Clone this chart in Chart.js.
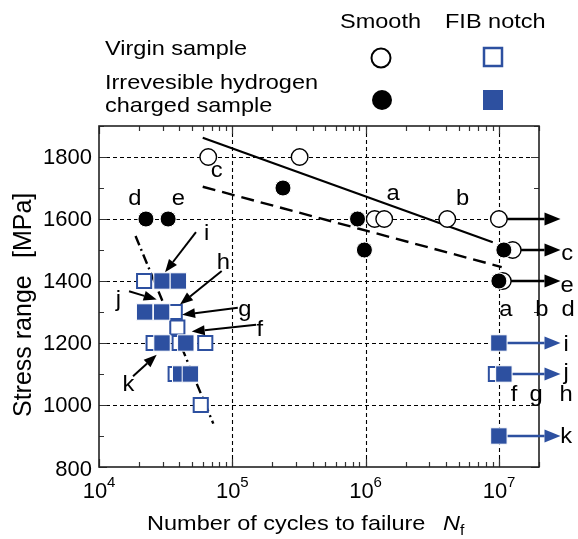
<!DOCTYPE html>
<html>
<head>
<meta charset="utf-8">
<script src="https://cdn.jsdelivr.net/npm/chart.js@4.4.1/dist/chart.umd.min.js"></script>
<style>
  html, body { margin: 0; padding: 0; background: #fff; }
  #wrap { width: 578px; height: 539px; }
</style>
</head>
<body>
<div id="wrap"><canvas id="snChart"></canvas></div>
<script>
// axis ticks
const xTicks = [1e4, 1e5, 1e6, 1e7];
const yTicks = [800, 1000, 1200, 1400, 1600, 1800];

// Smooth, virgin sample (open circles)
const smoothVirginN = [6.6e4, 3.2e5, 1.17e6, 1.38e6, 4.1e6, 1e7, 1.27e7, 1.07e7];
const smoothVirginS = [1800, 1800, 1600, 1600, 1600, 1600, 1500, 1400];
// Smooth, hydrogen charged (filled circles)
const smoothHydN = [2.25e4, 3.3e4, 2.4e5, 8.7e5, 9.8e5, 1.09e7, 1e7];
const smoothHydS = [1600, 1600, 1700, 1600, 1500, 1500, 1400];
// FIB notch, virgin sample (open squares)
const notchVirginN = [2.18e4, 3.7e4, 3.87e4, 2.57e4, 4.03e4, 6.27e4, 3.76e4, 5.8e4, 9.5e6];
const notchVirginS = [1400, 1300, 1250, 1200, 1200, 1200, 1100, 1000, 1100];
// FIB notch, hydrogen charged (filled squares)
const notchHydN = [2.97e4, 3.94e4, 2.2e4, 2.95e4, 2.97e4, 4.48e4, 4.1e4, 4.85e4, 1e7, 1.09e7, 1e7];
const notchHydS = [1400, 1400, 1300, 1300, 1200, 1200, 1100, 1100, 1200, 1100, 900];

// fitted S-N lines
const fitVirginN = [6.0e4, 9.0e6];
const fitVirginS = [1862, 1525];
const fitHydN = [6.0e4, 1.05e7];
const fitHydS = [1704, 1445];
const fitNotchN = [1.88e4, 7.2e4];
const fitNotchS = [1545, 940];

const BLUE = "#2d50a0";
const FONT = '"Liberation Sans", Arial, sans-serif';
const SX = 1.12; // original text is a bit wide

function pts(ns, ss) {
  return ns.map((n, i) => ({ x: n, y: ss[i] }));
}

function text(ctx, s, x, y, size, opt = {}) {
  ctx.save();
  ctx.font = (opt.italic ? "italic " : "") + size + "px " + FONT;
  ctx.fillStyle = opt.color || "#000";
  ctx.textAlign = opt.align || "left";
  ctx.textBaseline = opt.base || "alphabetic";
  ctx.translate(x, y);
  if (opt.rot) ctx.rotate(opt.rot);
  ctx.scale(opt.sx || 1, 1);
  ctx.fillText(s, 0, 0);
  ctx.restore();
}

function arrow(ctx, x1, y1, x2, y2, color, lw, hl, hw) {
  const ang = Math.atan2(y2 - y1, x2 - x1);
  ctx.save();
  ctx.strokeStyle = color;
  ctx.fillStyle = color;
  ctx.lineWidth = lw;
  ctx.setLineDash([]);
  ctx.beginPath();
  ctx.moveTo(x1, y1);
  ctx.lineTo(x2 - hl * Math.cos(ang), y2 - hl * Math.sin(ang));
  ctx.stroke();
  ctx.translate(x2, y2);
  ctx.rotate(ang);
  ctx.beginPath();
  ctx.moveTo(0, 0);
  ctx.lineTo(-hl, -hw);
  ctx.lineTo(-hl, hw);
  ctx.closePath();
  ctx.fill();
  ctx.restore();
}

// run-out arrows (from specimen to past the right axis)
const runoutTipN = 2.9e7;
const runoutBlack = [[1e7, 1600], [1.09e7, 1500], [1e7, 1400]];
const runoutBlue = [[1e7, 1200], [1.09e7, 1100], [1e7, 900]];

// letter labels, in data units
const plotLabels = [
  ["c", 7.64e4, 1756], ["d", 1.86e4, 1664], ["e", 3.94e4, 1664],
  ["a", 1.61e6, 1680], ["b", 5.35e6, 1664],
  ["i", 6.43e4, 1551], ["h", 8.57e4, 1459], ["g", 1.245e5, 1307],
  ["f", 1.61e5, 1243], ["j", 1.4e4, 1340], ["k", 1.66e4, 1064],
  ["c", 3.25e7, 1488], ["e", 3.25e7, 1385],
  ["a", 1.13e7, 1308], ["b", 2.1e7, 1308], ["d", 3.3e7, 1308],
  ["i", 3.2e7, 1195], ["j", 3.2e7, 1103], ["k", 3.2e7, 898],
  ["f", 1.3e7, 1032], ["g", 1.9e7, 1032], ["h", 3.2e7, 1032]
];

// pointer arrows near the notched cluster [fromN, fromS, toN, toS]
const pointerArrows = [
  [5.34e4, 1558, 3.13e4, 1428],
  [8.33e4, 1432, 4.05e4, 1324],
  [1.10e5, 1314, 4.2e4, 1291],
  [1.51e5, 1259, 4.96e4, 1237],
  [1.68e4, 1367, 2.71e4, 1340],
  [1.8e4, 1093, 2.71e4, 1162]
];

const gridPlugin = {
  id: "grid",
  beforeDatasetsDraw(chart) {
    const { ctx, chartArea: a, scales: { x, y } } = chart;
    ctx.save();
    ctx.strokeStyle = "#000";
    ctx.lineWidth = 1.1;
    ctx.setLineDash([4, 3]);
    yTicks.slice(1).forEach((v) => {
      const py = Math.round(y.getPixelForValue(v)) + 0.5;
      ctx.beginPath(); ctx.moveTo(a.left, py); ctx.lineTo(a.right, py); ctx.stroke();
    });
    xTicks.slice(1).forEach((v) => {
      const px = Math.round(x.getPixelForValue(v)) + 0.5;
      ctx.beginPath(); ctx.moveTo(px, a.top); ctx.lineTo(px, a.bottom); ctx.stroke();
    });
    ctx.setLineDash([]);

    // tick marks, inward on all four sides
    ctx.strokeStyle = "#333";
    ctx.lineWidth = 1.2;
    for (let d = 4; d <= 7; d++) {
      for (let k = 1; k <= 9; k++) {
        const v = k * Math.pow(10, d);
        if (v > x.max) break;
        const px = Math.round(x.getPixelForValue(v)) + 0.5;
        const len = k === 1 ? 8 : 5;
        ctx.beginPath();
        ctx.moveTo(px, a.bottom); ctx.lineTo(px, a.bottom - len);
        ctx.moveTo(px, a.top); ctx.lineTo(px, a.top + len);
        ctx.stroke();
      }
    }
    for (let v = 800; v <= 1900; v += 100) {
      const py = Math.round(y.getPixelForValue(v)) + 0.5;
      const len = v % 200 === 0 ? 8 : 5;
      ctx.beginPath();
      ctx.moveTo(a.left, py); ctx.lineTo(a.left + len, py);
      ctx.moveTo(a.right, py); ctx.lineTo(a.right - len, py);
      ctx.stroke();
    }

    // frame
    ctx.strokeStyle = "#222";
    ctx.lineWidth = 1.6;
    ctx.strokeRect(a.left, a.top, a.right - a.left, a.bottom - a.top);

    // run-out arrows go under the markers
    const tip = x.getPixelForValue(runoutTipN);
    runoutBlack.forEach(([n, s]) => {
      const py = y.getPixelForValue(s);
      arrow(ctx, x.getPixelForValue(n), py, tip, py, "#000", 2.4, 16, 6.5);
    });
    runoutBlue.forEach(([n, s]) => {
      const py = y.getPixelForValue(s);
      arrow(ctx, x.getPixelForValue(n), py, tip, py, BLUE, 2.4, 16, 6.5);
    });
    ctx.restore();
  },
  afterDraw(chart) {
    const { ctx, chartArea: a, scales: { x, y } } = chart;

    // tick labels
    yTicks.forEach((v) => {
      const py = y.getPixelForValue(v) + (v === 800 ? 3 : 1);
      text(ctx, String(v), a.left - 7, py, 22, { align: "right", base: "middle" });
    });
    xTicks.forEach((v) => {
      const px = x.getPixelForValue(v);
      const e = Math.round(Math.log10(v));
      text(ctx, "10", px - 4, 498, 22, { align: "center" });
      text(ctx, String(e), px + 8, 487, 15);
    });

    // axis titles
    text(ctx, "Number of cycles to failure", 147, 530, 21, { sx: SX });
    text(ctx, "N", 443, 530, 21, { italic: true, sx: SX });
    text(ctx, "f", 460, 535, 14, { sx: SX });
    text(ctx, "Stress range", 31, 417, 25, { rot: -Math.PI / 2 });
    text(ctx, "[MPa]", 31, 258, 25, { rot: -Math.PI / 2 });

    // letters and pointers
    plotLabels.forEach(([t, n, s]) => {
      text(ctx, t, x.getPixelForValue(n), y.getPixelForValue(s), 22, { align: "center", base: "middle", sx: 1.08 });
    });
    pointerArrows.forEach(([n1, s1, n2, s2]) => {
      arrow(ctx, x.getPixelForValue(n1), y.getPixelForValue(s1),
        x.getPixelForValue(n2), y.getPixelForValue(s2), "#000", 2, 13, 5);
    });

    // legend
    text(ctx, "Smooth", 340, 28, 21, { sx: SX });
    text(ctx, "FIB notch", 445, 28, 21, { sx: SX });
    text(ctx, "Virgin sample", 105, 55, 21, { sx: SX });
    text(ctx, "Irrevesible hydrogen", 105, 89, 21, { sx: SX });
    text(ctx, "charged sample", 105, 112, 21, { sx: SX });
    ctx.save();
    ctx.lineWidth = 2;
    ctx.strokeStyle = "#000";
    ctx.beginPath(); ctx.arc(381, 58, 9.5, 0, Math.PI * 2); ctx.stroke();
    ctx.fillStyle = "#000";
    ctx.beginPath(); ctx.arc(382, 100, 10, 0, Math.PI * 2); ctx.fill();
    ctx.strokeStyle = BLUE;
    ctx.lineWidth = 2.5;
    ctx.strokeRect(484, 48, 18, 18);
    ctx.fillStyle = BLUE;
    ctx.fillRect(483, 90, 20, 20);
    ctx.restore();
  }
};

new Chart(document.getElementById("snChart"), {
  type: "scatter",
  data: {
    datasets: [
      {
        label: "Smooth, H-charged",
        data: pts(smoothHydN, smoothHydS),
        pointStyle: "circle",
        pointRadius: 8,
        backgroundColor: "#000",
        borderColor: "#fff",
        borderWidth: 1,
        order: 1,
      },
      {
        label: "Smooth, virgin",
        data: pts(smoothVirginN, smoothVirginS),
        pointStyle: "circle",
        pointRadius: 8.3,
        backgroundColor: "#fff",
        borderColor: "#000",
        borderWidth: 1.4,
        order: 2,
      },
      {
        label: "FIB notch, H-charged",
        data: pts(notchHydN, notchHydS),
        pointStyle: "rect",
        pointRadius: 11.6,
        backgroundColor: BLUE,
        borderColor: "#fff",
        borderWidth: 1,
        order: 3,
      },
      {
        label: "FIB notch, virgin",
        data: pts(notchVirginN, notchVirginS),
        pointStyle: "rect",
        pointRadius: 10,
        backgroundColor: "#fff",
        borderColor: BLUE,
        borderWidth: 2,
        order: 4,
      },
      {
        label: "fit virgin",
        data: pts(fitVirginN, fitVirginS),
        showLine: true,
        pointRadius: 0,
        borderColor: "#000",
        borderWidth: 2.2,
        order: 5,
      },
      {
        label: "fit charged",
        data: pts(fitHydN, fitHydS),
        showLine: true,
        pointRadius: 0,
        borderColor: "#000",
        borderWidth: 2.4,
        borderDash: [13, 7],
        order: 5,
      },
      {
        label: "fit notch",
        data: pts(fitNotchN, fitNotchS),
        showLine: true,
        pointRadius: 0,
        borderColor: "#000",
        borderWidth: 2.4,
        borderDash: [10, 4, 2, 4],
        order: 5,
      },
    ],
  },
  options: {
    responsive: true,
    maintainAspectRatio: false,
    animation: false,
    layout: { padding: { left: 99, right: 39, top: 126, bottom: 72 } },
    clip: false,
    scales: {
      x: { type: "logarithmic", min: 1e4, max: 2e7, display: false },
      y: { type: "linear", min: 800, max: 1900, display: false },
    },
    plugins: { legend: { display: false }, tooltip: { enabled: false } },
  },
  plugins: [gridPlugin],
});
</script>
</body>
</html>
